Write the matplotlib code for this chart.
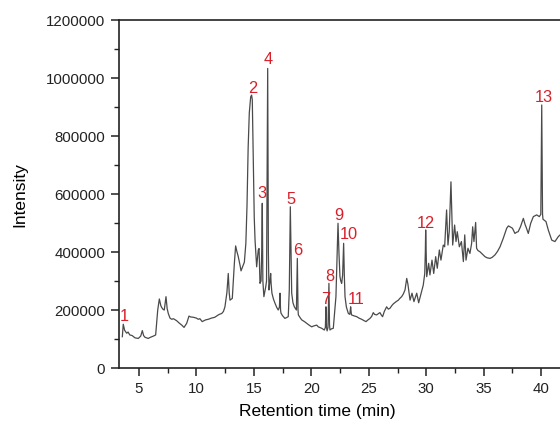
import matplotlib
matplotlib.use("Agg")
import matplotlib.pyplot as plt
from matplotlib.ticker import MultipleLocator, FuncFormatter

plt.rcParams['font.family'] = ['Liberation Sans', 'DejaVu Sans']

# Retention time (min) and intensity (thousands of counts)
time_min = [3.55, 3.63, 3.75, 3.93, 4.05, 4.2, 4.4, 4.65, 4.94, 5.15, 5.29, 5.4, 5.52, 5.8, 6.0,
            6.25, 6.45, 6.55, 6.63, 6.77, 6.9, 6.97, 7.1, 7.2, 7.35, 7.45, 7.55, 7.7, 7.85, 8.0,
            8.28, 8.5, 8.72, 8.92, 9.05, 9.15, 9.35, 9.5, 9.73, 10.0, 10.16, 10.3, 10.5, 10.8, 11.03,
            11.3, 11.6, 11.9, 12.05, 12.2, 12.35, 12.48, 12.65, 12.77, 12.85, 12.92, 13.05, 13.12, 13.3, 13.41,
            13.5, 13.64, 13.79, 13.88, 14.03, 14.17, 14.3, 14.4, 14.5, 14.6, 14.72, 14.8, 14.86, 14.95, 15.03,
            15.1, 15.24, 15.38, 15.45, 15.53, 15.62, 15.68, 15.73, 15.78, 15.87, 16.03, 16.1, 16.2, 16.26, 16.31,
            16.4, 16.46, 16.5, 16.57, 16.7, 16.84, 17.0, 17.12, 17.22, 17.27, 17.32, 17.36, 17.5, 17.7, 17.99,
            18.08, 18.17, 18.23, 18.29, 18.4, 18.52, 18.7, 18.78, 18.84, 18.87, 19.0, 19.16, 19.4, 19.6, 19.8,
            20.03, 20.2, 20.47, 20.6, 20.9, 21.13, 21.22, 21.27, 21.32, 21.37, 21.45, 21.53, 21.58, 21.62, 21.75,
            21.91, 22.0, 22.14, 22.25, 22.32, 22.4, 22.49, 22.56, 22.64, 22.72, 22.81, 22.87, 22.93, 23.05, 23.22,
            23.35, 23.42, 23.47, 23.5, 23.7, 23.95, 24.15, 24.38, 24.6, 24.76, 24.9, 25.1, 25.25, 25.39, 25.5,
            25.68, 25.85, 25.97, 26.1, 26.2, 26.35, 26.55, 26.7, 26.84, 27.0, 27.13, 27.35, 27.57, 27.7, 27.86,
            28.0, 28.15, 28.3, 28.4, 28.47, 28.59, 28.76, 28.93, 29.17, 29.34, 29.52, 29.74, 29.87, 29.92, 29.95,
            29.99, 30.04, 30.21, 30.32, 30.5, 30.65, 30.82, 30.96, 31.14, 31.28, 31.48, 31.6, 31.77, 31.89, 32.0,
            32.15, 32.3, 32.47, 32.59, 32.7, 32.88, 33.06, 33.23, 33.35, 33.46, 33.63, 33.8, 33.95, 34.04, 34.15,
            34.3, 34.38, 34.5, 34.67, 34.9, 35.11, 35.3, 35.55, 35.75, 35.98, 36.2, 36.42, 36.7, 37.0, 37.15,
            37.29, 37.5, 37.72, 37.85, 38.0, 38.2, 38.45, 38.6, 38.68, 38.88, 39.09, 39.32, 39.61, 39.84, 39.97,
            40.05, 40.12, 40.16, 40.42, 40.62, 40.92, 41.2, 41.49, 41.65]
intensity_k = [108, 151, 130, 120, 124, 114, 112, 104, 102, 110, 129, 112, 106, 102, 106,
               110, 114, 160, 200, 238, 215, 209, 202, 200, 246, 205, 188, 172, 168, 170,
               163, 155, 148, 140, 148, 154, 179, 176, 175, 172, 168, 170, 160, 166, 168,
               172, 175, 183, 186, 188, 195, 211, 260, 326, 260, 234, 238, 240, 361, 421,
               405, 384, 355, 335, 350, 365, 430, 560, 760, 880, 935, 941, 925, 706, 520,
               441, 349, 407, 412, 292, 300, 400, 568, 300, 246, 280, 300, 1033, 400, 269,
               300, 326, 290, 258, 238, 223, 208, 200, 210, 258, 200, 189, 180, 171, 177,
               269, 556, 400, 258, 225, 211, 200, 378, 200, 183, 175, 166, 160, 154, 148,
               142, 145, 148, 142, 137, 131, 140, 211, 140, 128, 140, 292, 150, 131, 135,
               137, 180, 246, 400, 499, 400, 315, 300, 292, 320, 430, 320, 246, 210, 188,
               185, 211, 190, 183, 180, 177, 172, 168, 163, 160, 165, 171, 178, 191, 185,
               183, 188, 191, 182, 177, 195, 211, 203, 206, 215, 221, 228, 234, 240, 246,
               255, 269, 309, 290, 269, 234, 258, 229, 258, 225, 252, 286, 326, 400, 476,
               400, 315, 361, 321, 372, 326, 384, 344, 407, 372, 424, 418, 545, 424, 470,
               642, 424, 493, 436, 470, 418, 436, 367, 459, 372, 413, 395, 430, 487, 436,
               502, 413, 405, 401, 392, 384, 380, 378, 382, 390, 402, 418, 447, 482, 490,
               487, 482, 464, 468, 470, 487, 516, 495, 487, 464, 499, 522, 528, 522, 530,
               907, 530, 513, 505, 476, 441, 436, 453, 459]

# Peak labels
peak_labels = ['1', '2', '3', '4', '5', '6', '7', '8', '9', '10', '11', '12', '13']
label_time = [3.69, 14.86, 15.73, 16.23, 18.2, 18.8, 21.27, 21.6, 22.35, 23.28, 23.89, 29.95, 40.19]
label_int_k = [176, 964, 602, 1064, 582, 404, 237, 317, 527, 459, 237, 499, 932]

intensity = [v * 1000 for v in intensity_k]
label_int = [v * 1000 for v in label_int_k]

fig = plt.figure(figsize=(5.6, 4.23), dpi=100)
ax = fig.add_axes([0.2125, 0.13, 0.7875, 0.8227])
ax.plot(time_min, intensity, color='#4a4a4a', lw=0.9)

red = '#d8202a'
for lab, t, v in zip(peak_labels, label_time, label_int):
    ax.text(t, v, lab, color=red, fontsize=11.8, ha='center', va='center')

ax.set_xlim(3.26, 41.64)
ax.set_ylim(0, 1200000)
ax.xaxis.set_major_locator(MultipleLocator(5))
ax.xaxis.set_minor_locator(MultipleLocator(2.5))
ax.yaxis.set_major_locator(MultipleLocator(200000))
ax.yaxis.set_minor_locator(MultipleLocator(100000))
ax.yaxis.set_major_formatter(FuncFormatter(lambda v, p: f"{int(round(v))}"))
ax.tick_params(which='major', direction='out', length=6, width=1.1, labelsize=10.8, pad=4,
               colors='#222222')
ax.tick_params(which='minor', direction='out', length=3.5, width=1.0, colors='#222222')
for s in ['left', 'bottom', 'top']:
    ax.spines[s].set_linewidth(1.2)
    ax.spines[s].set_color('#222222')
ax.spines['right'].set_visible(False)

ax.set_xlabel('Retention time (min)', fontsize=12.5)
ax.xaxis.set_label_coords(0.45, -0.126)
ax.xaxis.label.set_va('center')
ax.set_ylabel('Intensity', fontsize=12.5)
ax.yaxis.set_label_coords(-0.2245, 0.497)
ax.yaxis.label.set_va('center')

fig.savefig('out.png', dpi=100)
